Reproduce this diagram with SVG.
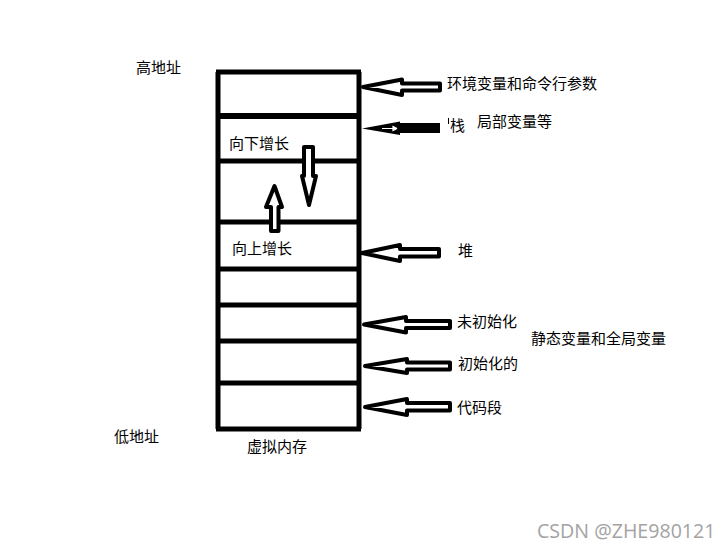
<svg xmlns="http://www.w3.org/2000/svg" width="723" height="549" viewBox="0 0 723 549">
<style>
.t{font-family:"Noto Sans CJK SC","Noto Sans",sans-serif;font-size:15px;fill:#000}
.box{stroke:#000;stroke-width:5;fill:none}
.arr{fill:#fff;stroke:#000;stroke-width:4;stroke-linejoin:round}
</style>
<rect width="723" height="549" fill="#fff"/>
<g id="memory">
<line class="box" x1="218" y1="72" x2="218" y2="429"/>
<line class="box" x1="359" y1="72" x2="359" y2="429"/>
<line class="box" x1="216" y1="72" x2="361" y2="72"/>
<line class="box" x1="216" y1="116" x2="361" y2="116" style="stroke-width:6"/>
<line class="box" x1="216" y1="161" x2="361" y2="161"/>
<line class="box" x1="216" y1="222" x2="361" y2="222"/>
<line class="box" x1="216" y1="269" x2="361" y2="269"/>
<line class="box" x1="216" y1="305" x2="361" y2="305"/>
<line class="box" x1="216" y1="341" x2="361" y2="341"/>
<line class="box" x1="216" y1="383" x2="361" y2="383"/>
<line class="box" x1="216" y1="429" x2="361" y2="429"/>
</g>
<g id="connectors">
<polygon class="arr" points="363,87 402,79.5 402,83.5 440,83.5 440,90.5 402,90.5 402,95"/>
<polygon points="362,128.5 400,121.5 400,123 440,123 440,133 400,133 400,135" fill="#000"/>
<polyline points="382,128.5 397,128.5 393,126.5 393,130.5 397,128.5" fill="#fff" stroke="#fff" stroke-width="1.2"/>
<polygon class="arr" points="362,253 400,245 400,249 439,249 439,256.5 400,256.5 400,261"/>
<polygon class="arr" points="364,324.5 406,317 406,321 450,321 450,328 406,328 406,332.5"/>
<polygon class="arr" points="365,366 407,359 407,362.5 450,362.5 450,369.5 407,369.5 407,373"/>
<polygon class="arr" points="365,407 407,399 407,403 450,403 450,410.5 407,410.5 407,415"/>
<polygon class="arr" points="304,147 313,147 313,176 316,176 309,205 302,176 304,176"/>
<polygon class="arr" points="274.5,186 282,207 278.5,207 278.5,231 271,231 271,207 266,207"/>
</g>
<g id="labels">
<text class="t" x="136" y="73">高地址</text>
<text class="t" x="447" y="89">环境变量和命令行参数</text>
<line x1="448.5" y1="118" x2="448.5" y2="124" stroke="#000" stroke-width="1"/>
<text class="t" x="450" y="130.5">栈</text>
<text class="t" x="477" y="127">局部变量等</text>
<text class="t" x="229" y="149">向下增长</text>
<text class="t" x="232" y="254">向上增长</text>
<text class="t" x="458" y="256">堆</text>
<text class="t" x="457" y="327">未初始化</text>
<text class="t" x="531" y="344">静态变量和全局变量</text>
<text class="t" x="458" y="369">初始化的</text>
<text class="t" x="457" y="413">代码段</text>
<text class="t" x="114" y="442">低地址</text>
<text class="t" x="247" y="452">虚拟内存</text>
<text x="537" y="538" style="font-family:'Open Sans','Noto Sans',sans-serif;font-size:19.6px;fill:#a3a3a3">CSDN @ZHE980121</text>
</g>
</svg>
